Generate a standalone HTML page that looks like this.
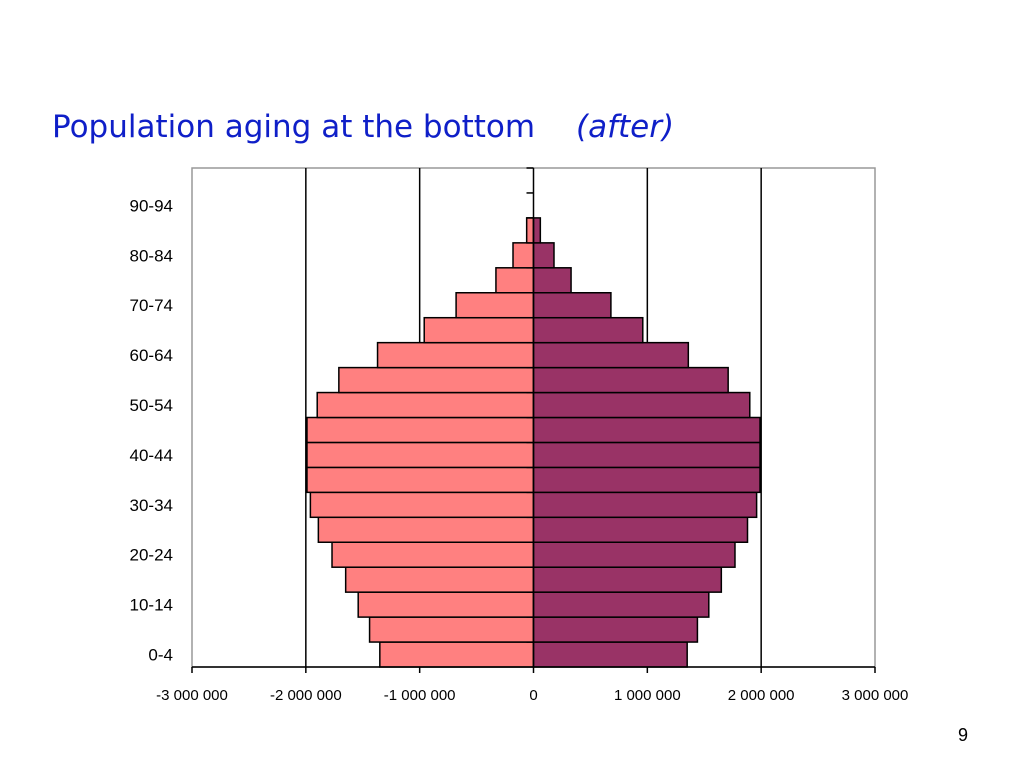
<!DOCTYPE html>
<html><head><meta charset="utf-8"><style>
body{margin:0;background:#fff;width:1024px;height:768px;overflow:hidden}
svg text{font-family:"Liberation Sans",sans-serif}
</style></head><body>
<svg width="1024" height="768">
<text x="52" y="137" font-size="31" fill="#0f1fc8" style="font-family:'DejaVu Sans','Liberation Sans',sans-serif">Population aging at the bottom</text>
<text x="576" y="137" font-size="31" fill="#0f1fc8" font-style="italic" style="font-family:'DejaVu Sans','Liberation Sans',sans-serif">(after)</text>
<text x="958" y="741" font-size="18" fill="#000">9</text>
<g id="chart"></g>
</svg>
<script>
const ageGroups=["0-4","5-9","10-14","15-19","20-24","25-29","30-34","35-39","40-44","45-49","50-54","55-59","60-64","65-69","70-74","75-79","80-84","85-89","90-94","95-99"];
const maleValues=[-1350000,-1440000,-1540000,-1650000,-1770000,-1890000,-1960000,-1990000,-1990000,-1990000,-1900000,-1710000,-1370000,-960000,-680000,-330000,-180000,-60000,0,0];
const femaleValues=[1350000,1440000,1540000,1650000,1770000,1880000,1960000,1990000,1990000,1990000,1900000,1710000,1360000,960000,680000,330000,180000,60000,0,0];
const xTicks=[-3000000,-2000000,-1000000,0,1000000,2000000,3000000];
const xTickLabels=["-3 000 000","-2 000 000","-1 000 000","0","1 000 000","2 000 000","3 000 000"];
const NS="http://www.w3.org/2000/svg";
const g=document.getElementById('chart');
const L=192,R=875,T=168,B=667;
const xs=v=>L+(v+3000000)/6000000*(R-L);
const band=(B-T)/ageGroups.length;
const ys=i=>B-(i+1)*band;
function mk(t,a){const e=document.createElementNS(NS,t);for(const k in a)e.setAttribute(k,a[k]);g.appendChild(e);return e;}
let e=mk('rect',{x:L,y:T,width:R-L,height:B-T,fill:'#fff',stroke:'#999','stroke-width':1.5});


xTicks.forEach((v,i)=>{
 if(v!==0&&Math.abs(v)<3000000){const l=mk('line',{x1:xs(v),x2:xs(v),y1:T,y2:B,stroke:'#000','stroke-width':1.5});
 
 }
 const tk=mk('line',{x1:xs(v),x2:xs(v),y1:B,y2:B+6,stroke:'#000','stroke-width':1.5});
 
 
 const t=mk('text',{x:xs(v),y:B+33,'font-size':15,'text-anchor':'middle',fill:'#000'});
 t.textContent=xTickLabels[i];
 
 
});
ageGroups.forEach((a,i)=>{
 const m=maleValues[i],f=femaleValues[i];
 if(m<0){const r=mk('rect',{x:xs(m),y:ys(i),width:xs(0)-xs(m),height:band,fill:'#ff8080',stroke:'#000','stroke-width':1.5});
 
 }
 if(f>0){const r=mk('rect',{x:xs(0),y:ys(i),width:xs(f)-xs(0),height:band,fill:'#993366',stroke:'#000','stroke-width':1.5});
 
 }
 const tk=mk('line',{x1:xs(0)-7,x2:xs(0),y1:ys(i),y2:ys(i),stroke:'#000','stroke-width':1.5});
 
 
 if(i%2===0){const t=mk('text',{x:173,y:ys(i)+band/2+6,'font-size':17,'text-anchor':'end',fill:'#000'});
 t.textContent=a;
 
 }
});
e=mk('line',{x1:xs(0),x2:xs(0),y1:T,y2:B,stroke:'#000','stroke-width':1.5});


e=mk('line',{x1:L,x2:R,y1:B,y2:B,stroke:'#000','stroke-width':1.5});


</script>
</body></html>
